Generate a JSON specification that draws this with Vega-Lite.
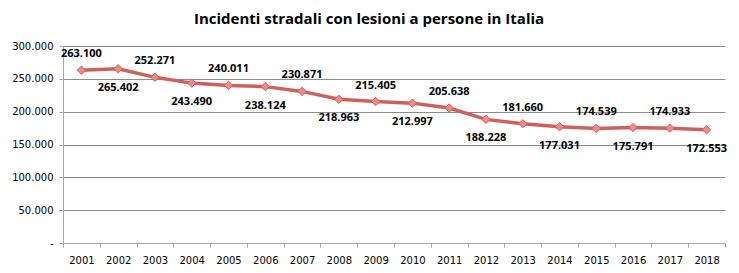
{
  "$schema": "https://vega.github.io/schema/vega-lite/v6.json",
  "width": 662,
  "height": 197,
  "autosize": "none",
  "padding": {"left": 63, "top": 46, "right": 14, "bottom": 30},
  "background": "white",
  "config": {
    "locale": {"number": {"decimal": ",", "thousands": ".", "grouping": [3], "currency": ["€", ""]}},
    "view": {"stroke": null},
    "font": "DejaVu Sans"
  },
  "title": {
    "text": "Incidenti stradali con lesioni a persone in Italia",
    "font": "Open Sans",
    "fontSize": 15,
    "fontWeight": "bold",
    "color": "#000000",
    "anchor": "middle",
    "dx": -25,
    "offset": 14
  },
  "data": {"values": [
    {"anno": "2001", "incidenti": 263100},
    {"anno": "2002", "incidenti": 265402},
    {"anno": "2003", "incidenti": 252271},
    {"anno": "2004", "incidenti": 243490},
    {"anno": "2005", "incidenti": 240011},
    {"anno": "2006", "incidenti": 238124},
    {"anno": "2007", "incidenti": 230871},
    {"anno": "2008", "incidenti": 218963},
    {"anno": "2009", "incidenti": 215405},
    {"anno": "2010", "incidenti": 212997},
    {"anno": "2011", "incidenti": 205638},
    {"anno": "2012", "incidenti": 188228},
    {"anno": "2013", "incidenti": 181660},
    {"anno": "2014", "incidenti": 177031},
    {"anno": "2015", "incidenti": 174539},
    {"anno": "2016", "incidenti": 175791},
    {"anno": "2017", "incidenti": 174933},
    {"anno": "2018", "incidenti": 172553}
  ]},
  "encoding": {
    "x": {
      "field": "anno",
      "type": "ordinal",
      "scale": {"type": "band", "paddingInner": 0, "paddingOuter": 0},
      "axis": {
        "title": null,
        "labelAngle": 0,
        "labelFont": "DejaVu Sans",
        "labelFontSize": 10,
        "labelColor": "#000000",
        "labelPadding": 8,
        "tickBand": "extent",
        "domainColor": "#a6a6a6",
        "tickColor": "#a6a6a6",
        "tickSize": 4,
        "grid": false
      }
    },
    "y": {
      "field": "incidenti",
      "type": "quantitative",
      "scale": {"domain": [0, 300000], "nice": false},
      "axis": {
        "title": null,
        "values": [0, 50000, 100000, 150000, 200000, 250000, 300000],
        "labelExpr": "datum.value == 0 ? '-' : format(datum.value, ',d')",
        "labelFont": "DejaVu Sans",
        "labelFontSize": 10,
        "labelColor": "#000000",
        "labelPadding": 6,
        "domainColor": "#a6a6a6",
        "tickColor": "#a6a6a6",
        "tickSize": 4,
        "grid": true,
        "gridColor": "#8c8c8c",
        "gridWidth": 1
      }
    }
  },
  "layer": [
    {
      "mark": {"type": "line", "color": "#d0605c", "strokeWidth": 3.5},
      "encoding": {}
    },
    {
      "mark": {"type": "point", "shape": "diamond", "filled": true, "size": 70, "color": "#f08a86", "stroke": "#d0605c", "strokeWidth": 1, "opacity": 1}
    },
    {
      "transform": [{"filter": "toNumber(datum.anno) % 2 == 1"}],
      "mark": {"type": "text", "dy": -16, "fontSize": 11, "fontWeight": "bold", "font": "Open Sans", "color": "#000000"},
      "encoding": {"text": {"field": "incidenti", "type": "quantitative", "format": ",d"}}
    },
    {
      "transform": [{"filter": "toNumber(datum.anno) % 2 == 0"}],
      "mark": {"type": "text", "dy": 19, "fontSize": 11, "fontWeight": "bold", "font": "Open Sans", "color": "#000000"},
      "encoding": {"text": {"field": "incidenti", "type": "quantitative", "format": ",d"}}
    }
  ]
}
